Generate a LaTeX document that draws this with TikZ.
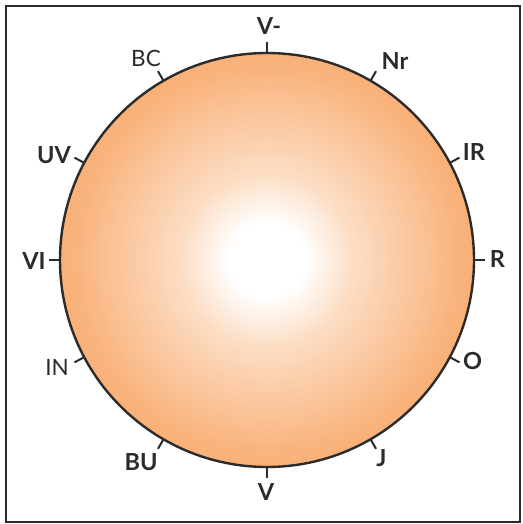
\documentclass[tikz,border=0pt]{standalone}
\usepackage{fontspec}
\setmainfont{Lato}
\usetikzlibrary{calc}
\definecolor{ink}{HTML}{2B2B2B}
\definecolor{orA}{HTML}{FCDDC4}
\definecolor{orB}{HTML}{F9B47E}
\definecolor{orC}{HTML}{F69C52}
\pgfdeclareradialshading{orb}{\pgfpoint{0bp}{0bp}}{color(0bp)=(white); color(4.5bp)=(white); color(10.5bp)=(orA); color(23bp)=(orB); color(35.5bp)=(orC); color(100bp)=(orC)}
\begin{document}
\begin{tikzpicture}[x=1pt,y=-1pt,
  lbl/.style={font=\fontsize{23.5}{23.5}\selectfont\bfseries, text=ink, inner sep=0pt, anchor=base},
  lbllight/.style={font=\fontsize{22.5}{22.5}\selectfont, text=ink, inner sep=0pt, anchor=base},
  tick/.style={draw=ink, line width=2pt}]
\useasboundingbox (0,0) rectangle (522,524);
\draw[ink, line width=2pt] (6,6) rectangle (520,522);
\coordinate (c) at (267,260);
\shade[shading=orb] (c) circle[radius=207];
\draw[ink, line width=2.4pt] (c) circle[radius=207];
\foreach \a in {90,60,28,0,-28,-60,-90,-120,-152,180,152,120}{
  \coordinate (t0) at ($(c)+({cos(\a)*207},{-sin(\a)*207})$);
  \coordinate (t1) at ($(c)+({cos(\a)*218},{-sin(\a)*218})$);
  \draw[tick] (t0) -- (t1);
}
\node[lbl] (vm) at (269,35) {V-};
\node[lbl] (nr) at (395,70) {Nr};
\node[lbl] (ir) at (474,160) {IR};
\node[lbl] (r) at (497.5,267) {R};
\node[lbl] (o) at (472.5,369.5) {O};
\node[lbl] (j) at (381.5,466) {J};
\node[lbl] (v) at (266,500) {V};
\node[lbl] (bu) at (141,470) {BU};
\node[lbllight] (in) at (57,375) {IN};
\node[lbl] (vi) at (34,269) {VI};
\node[lbl] (uv) at (54,163) {UV};
\node[lbllight] (bc) at (146,67) {BC};
\end{tikzpicture}
\end{document}
